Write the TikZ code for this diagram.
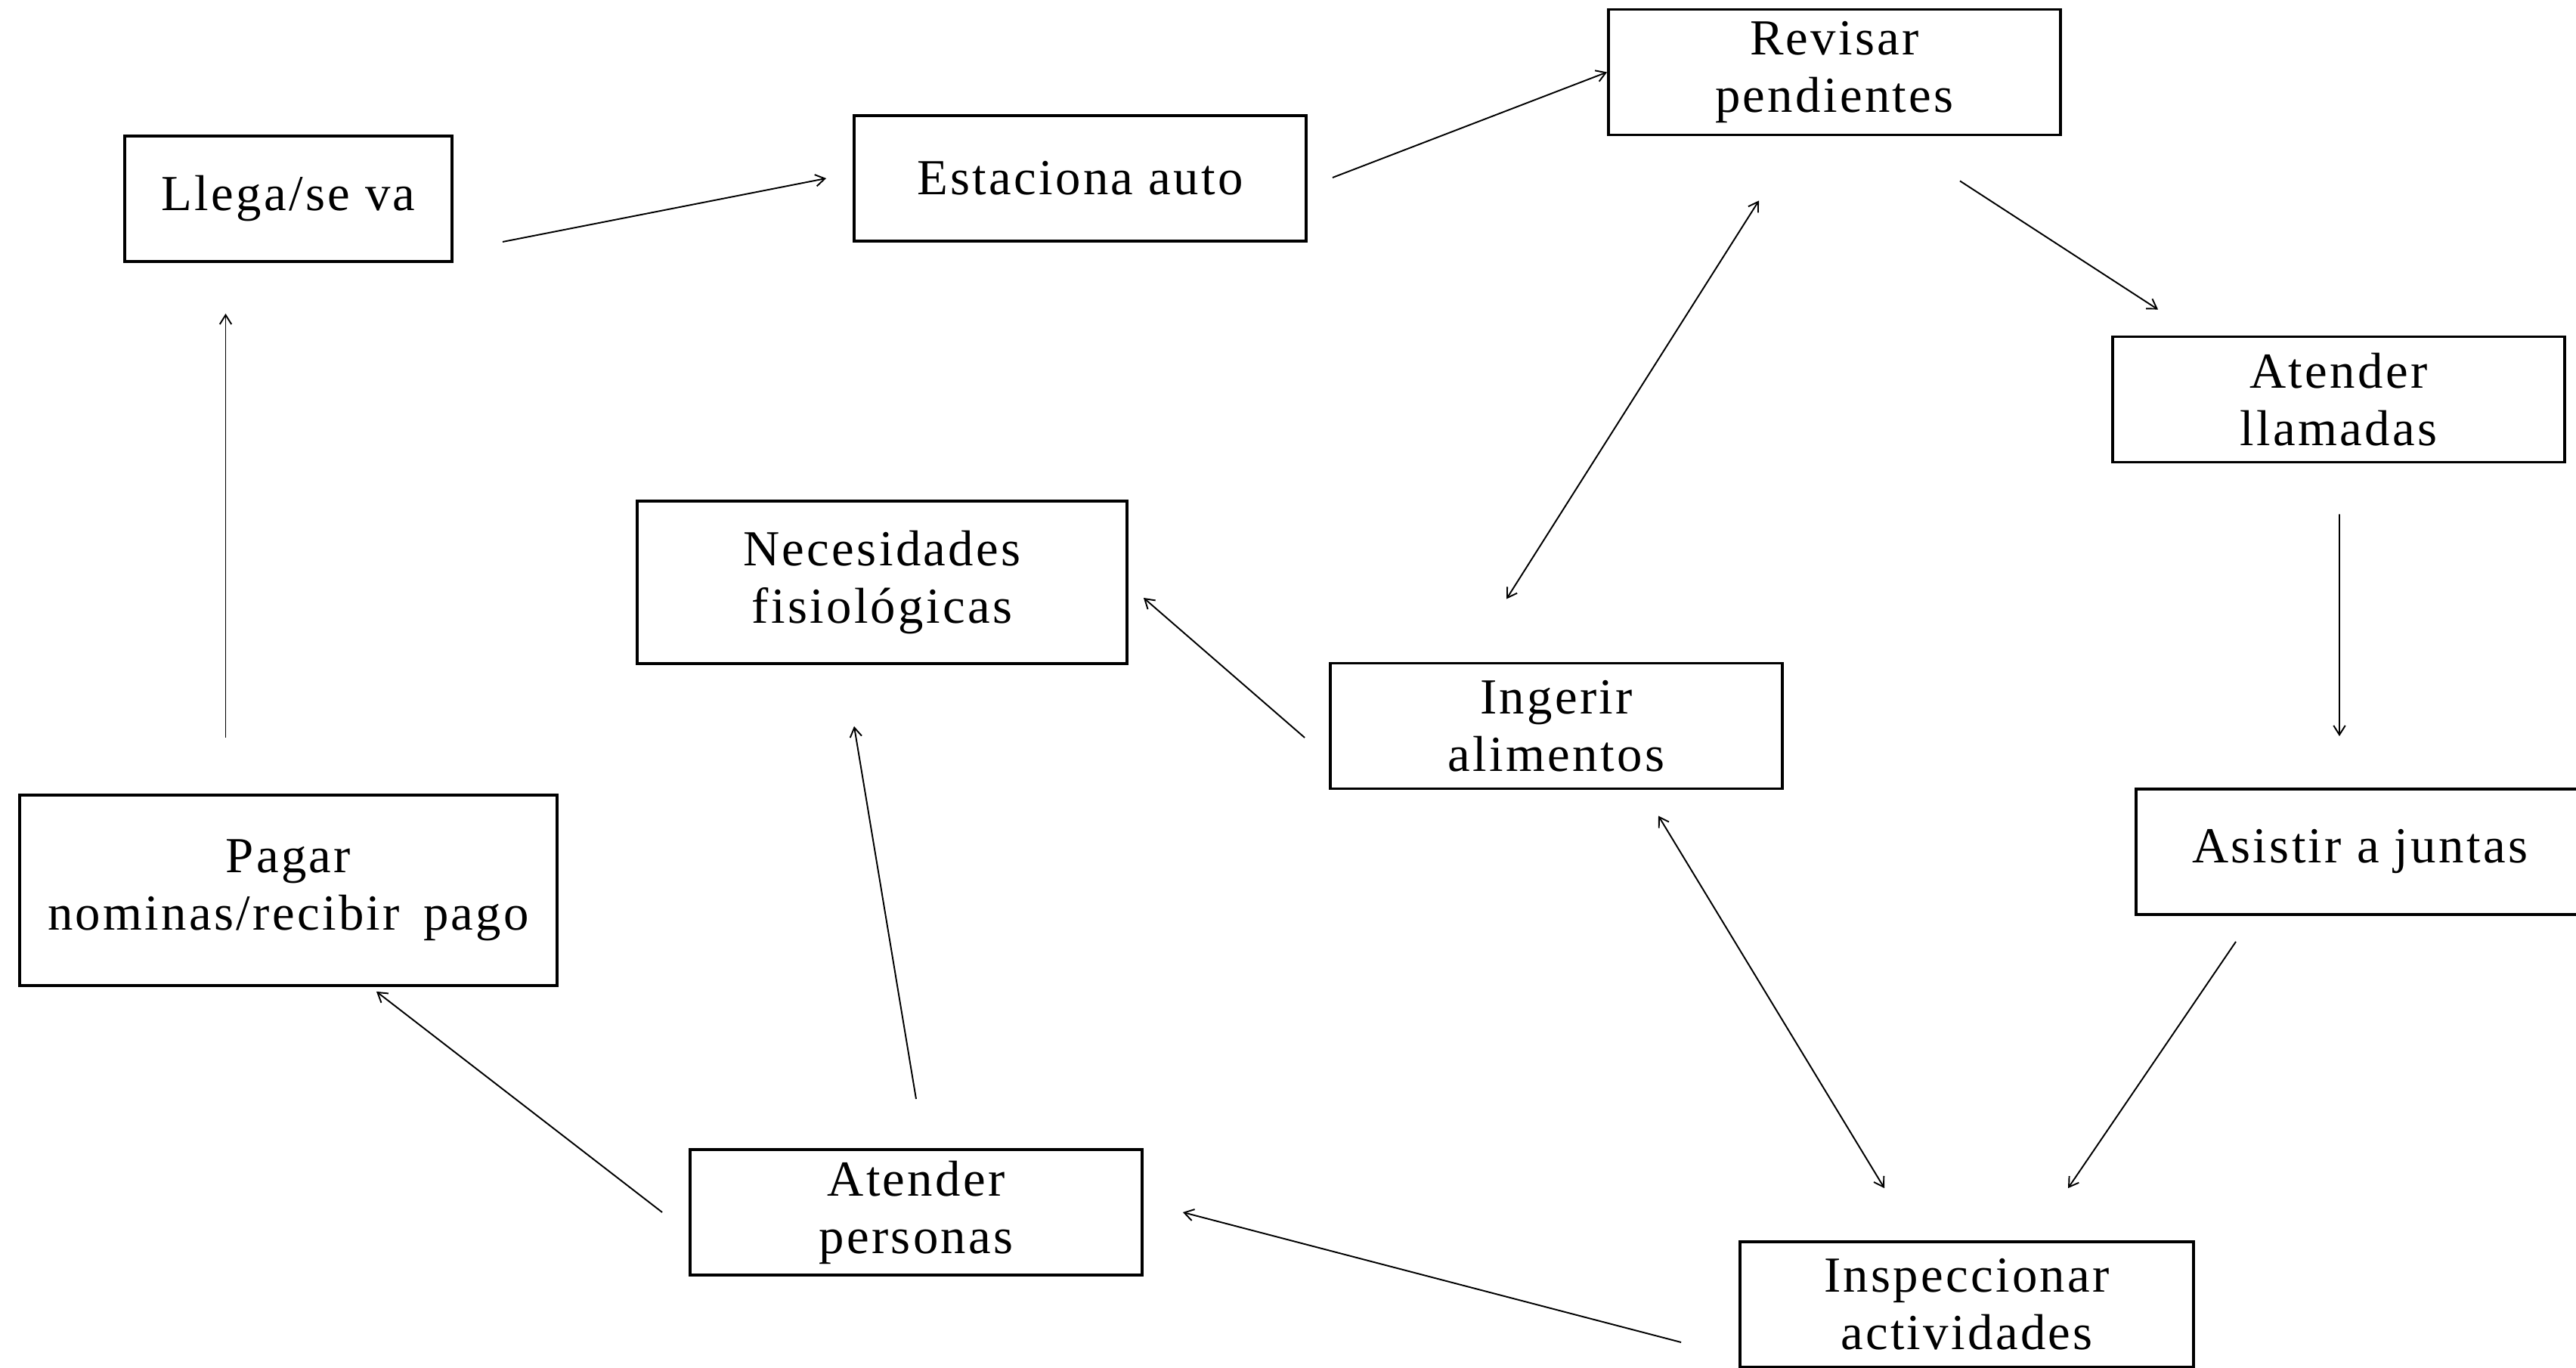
\documentclass[tikz,border=0pt]{standalone}
\usepackage{fontspec}
\setmainfont{Liberation Serif}[LetterSpace=5]
\usepackage{tikz}
\usetikzlibrary{arrows.meta}
\tikzset{
  box/.style  ={draw, line width=1.1pt, align=center, inner sep=2pt,
                font=\fontsize{19}{21.6}\selectfont,
                minimum width=5.98cm, minimum height=1.66cm},
  arrow/.style={-{Straight Barb[length=3.5pt,width=4.4pt]}, line width=0.55pt},
  darrow/.style={{Straight Barb[length=3.5pt,width=4.4pt]}-{Straight Barb[length=3.5pt,width=4.4pt]}, line width=0.55pt},
}

\begin{document}
\begin{tikzpicture}
        \useasboundingbox (0,0) rectangle (34.08,18.09);
        \clip (0,0) rectangle (34.08,18.09);
        % actividades
        \node[box, minimum width=4.33cm] (llega) at (3.815,15.46){\raisebox{-0.1cm}{Llega/se va}};
        \node[box] (estaciona) at (14.29,15.73){Estaciona auto};
        \node[box] (revisar)   at (24.27,17.135){Revisar\\pendientes};
        \node[box] (llamadas)  at (30.94,12.805){Atender\\llamadas};
        \node[box, minimum width=5.92cm] (juntas) at (31.22,6.82){Asistir a juntas};
        \node[box] (ingerir)   at (20.59,8.485){Ingerir\\alimentos};
        \node[box, minimum width=6.48cm, minimum height=2.15cm] (necesidades) at (11.67,10.385){Necesidades\\fisiológicas};
        \node[box, minimum width=7.11cm, minimum height=2.52cm] (pagar) at (3.815,6.31){Pagar\\nominas/recibir\, pago};
        \node[box] (personas)  at (12.12,2.05){Atender\\personas};
        \node[box, minimum width=6.0cm] (inspeccionar) at (26.02,0.83){Inspeccionar\\actividades};
        % flechas
        \draw[arrow] ([shift={(0.65,-0.57)}]llega.east) -- ([shift={(-0.35,0)}]estaciona.west);
        \draw[arrow] ([shift={(0.33,0.01)}]estaciona.east) -- (revisar.west);
        \draw[arrow] ([shift={(1.66,-0.59)}]revisar.south) -- ([shift={(0.62,0.34)}]llamadas.north west);
        \draw[arrow] ([shift={(0.01,-0.67)}]llamadas.south) -- ([shift={(-0.27,0.68)}]juntas.north);
        \draw[arrow] ([shift={(-1.64,-0.34)}]juntas.south) -- ([shift={(1.34,0.69)}]inspeccionar.north);
        \draw[darrow] ([shift={(-1.09,0.69)}]inspeccionar.north) -- ([shift={(1.35,-0.34)}]ingerir.south);
        \draw[darrow] ([shift={(-0.66,0.83)}]ingerir.north) -- ([shift={(-1.0,-0.85)}]revisar.south);
        \draw[arrow] ([shift={(-0.32,-0.155)}]ingerir.west) -- ([shift={(0.2,-0.205)}]necesidades.east);
        \draw[arrow] ([shift={(-0.76,-0.5)}]inspeccionar.west) -- ([shift={(0.52,0)}]personas.east);
        \draw[arrow] ([shift={(0,0.65)}]personas.north) -- ([shift={(-0.37,-0.81)}]necesidades.south);
        \draw[arrow] ([shift={(-0.35,0)}]personas.west) -- ([shift={(1.165,-0.06)}]pagar.south);
        \draw[arrow] ([shift={(-0.83,0.74)}]pagar.north) -- ([shift={(-0.83,-0.67)}]llega.south);
\end{tikzpicture}
\end{document}
